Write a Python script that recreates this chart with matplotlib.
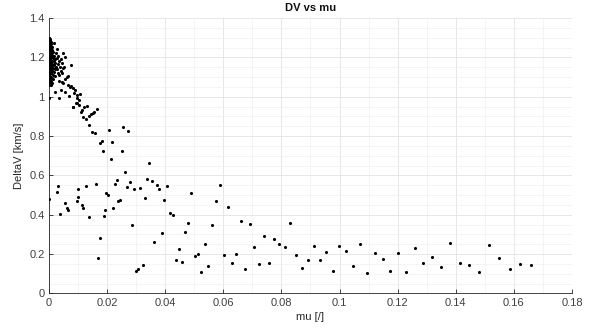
import matplotlib
matplotlib.use("Agg")
import matplotlib.pyplot as plt
from matplotlib.ticker import MultipleLocator
import numpy as np

# dense cluster near mu = 0
mu_cluster = [0.0000,0.0002,0.0004,0.0001,0.0006,0.0003,0.0000,0.0008,0.0005,0.0002,0.0010,0.0000,0.0007,0.0004,0.0012,0.0001,0.0009,0.0003,0.0015,0.0006,0.0000,0.0011,0.0004,0.0018,0.0008,0.0002,0.0013,0.0005,0.0020,0.0000,0.0010,0.0016,0.0003,0.0007,0.0022,0.0012,0.0001,0.0018,0.0005,0.0009,0.0025,0.0014,0.0000,0.0020,0.0006,0.0011,0.0003,0.0017,0.0008,0.0001,0.0013,0.0005,0.0021,0.0000,0.0010,0.0004,0.0015,0.0002,0.0007,0.0000,0.0012,0.0003,0.0000,0.0006,
              0.0028,0.0032,0.0030,0.0035,0.0026,0.0040,0.0031,0.0027,0.0036,0.0045,0.0052,
              0.0001,0.0003,0.0000,0.0005,0.0002,0.0008,0.0001,0.0004,0.0006,0.0000,0.0003,0.0009,0.0002,0.0005,0.0001,0.0007,0.0000,0.0004,0.0011,0.0002,0.0006,0.0000,0.0003,0.0008,0.0001,0.0005,0.0000,0.0002]
dv_cluster = [1.300,1.295,1.290,1.285,1.280,1.275,1.270,1.268,1.262,1.258,1.255,1.250,1.247,1.243,1.240,1.236,1.232,1.228,1.226,1.222,1.218,1.215,1.211,1.208,1.205,1.200,1.197,1.193,1.190,1.187,1.184,1.180,1.177,1.173,1.170,1.166,1.163,1.160,1.156,1.152,1.150,1.146,1.142,1.139,1.135,1.131,1.127,1.124,1.120,1.116,1.112,1.108,1.105,1.100,1.097,1.093,1.089,1.085,1.080,1.075,1.072,1.066,1.060,1.058,
              1.195,1.210,1.165,1.180,1.140,1.190,1.120,1.245,1.110,1.120,1.150,
              1.298,1.288,1.278,1.272,1.265,1.252,1.245,1.238,1.230,1.224,1.213,1.202,1.195,1.183,1.175,1.168,1.158,1.148,1.140,1.133,1.122,1.114,1.103,1.094,1.083,1.070,1.064,1.090]

# upper branch
mu_upper = [0.0000,0.0034,0.0018,0.0024,0.0049,0.0055,0.0075,0.0044,0.0038,0.0049,0.0041,0.0061,0.0066,0.0055,0.0044,0.0049,0.0035,0.0021,0.0041,0.0055,0.0066,0.0072,0.0077,0.0069,0.0084,0.0090,0.0086,0.0095,0.0097,0.0103,0.0082,0.0093,0.0102,0.0107,0.0109,0.0113,0.0120,0.0130,0.0118,0.0127,0.0139,0.0145,0.0150,0.0155,0.0164,0.0138,0.0147,0.0157,0.0208,0.0256,0.0273,0.0181,0.0176,0.0218,0.0185,0.0250,0.0212,0.0345,0.0262,0.0084,0.0097]
dv_upper = [0.992,0.992,1.275,1.224,1.224,1.201,1.162,1.174,1.153,1.145,1.133,1.102,1.106,1.089,1.077,1.072,1.080,1.026,1.035,1.026,1.060,1.051,1.055,1.006,1.043,1.035,1.018,1.009,0.992,0.984,0.947,0.967,0.957,1.014,0.924,0.933,0.950,0.955,0.896,0.886,0.904,0.911,0.916,0.924,0.936,0.857,0.819,0.816,0.833,0.846,0.824,0.775,0.763,0.768,0.726,0.726,0.683,0.665,0.616,0.950,0.967]

# lower branch
mu_lower = [0.0000,0.0027,0.0030,0.0038,0.0055,0.0061,0.0067,0.0095,0.0099,0.0101,0.0114,0.0118,0.0127,0.0139,0.0161,0.0168,0.0176,0.0189,0.0194,0.0196,0.0202,0.0221,0.0228,0.0233,0.0239,0.0244,0.0268,0.0280,0.0287,0.0294,0.0301,0.0307,0.0314,0.0322,0.0329,0.0337,0.0355,0.0360,0.0371,0.0379,0.0388,0.0397,0.0407,0.0416,0.0426,0.0436,0.0447,0.0457,0.0467,0.0477,0.0489,0.0502,0.0513,0.0523,0.0536,0.0548,0.0561,0.0575,0.0588,0.0602,0.0615,0.0630,0.0645,0.0660,0.0675,0.0691,0.0707,0.0724,0.0740,0.0757,0.0775,0.0793,0.0811,0.0831,0.0849,0.0871,0.0892,0.0912,0.0933,0.0955,0.0977,0.0999,0.1022,0.1046,0.1071,0.1096,0.1122,0.1149,0.1175,0.1202,0.1230,0.1259,0.1288,0.1318,0.1349,0.1381,0.1414,0.1446,0.1479,0.1514,0.1549,0.1585,0.1622,0.1660]
dv_lower = [0.478,0.517,0.546,0.404,0.458,0.433,0.422,0.468,0.492,0.529,0.448,0.432,0.545,0.387,0.555,0.178,0.280,0.395,0.422,0.509,0.502,0.432,0.558,0.578,0.471,0.475,0.541,0.565,0.346,0.531,0.112,0.125,0.537,0.142,0.487,0.583,0.570,0.260,0.550,0.532,0.308,0.473,0.548,0.409,0.398,0.168,0.227,0.161,0.310,0.359,0.509,0.190,0.200,0.108,0.251,0.137,0.346,0.470,0.551,0.196,0.441,0.154,0.202,0.366,0.122,0.354,0.237,0.148,0.292,0.153,0.275,0.251,0.237,0.359,0.195,0.127,0.171,0.239,0.169,0.208,0.112,0.242,0.214,0.139,0.249,0.105,0.204,0.175,0.112,0.205,0.107,0.232,0.154,0.186,0.132,0.258,0.153,0.144,0.107,0.244,0.180,0.124,0.148,0.146]

x_ticks = [0, 0.02, 0.04, 0.06, 0.08, 0.1, 0.12, 0.14, 0.16, 0.18]
x_ticklabels = ["0", "0.02", "0.04", "0.06", "0.08", "0.1", "0.12", "0.14", "0.16", "0.18"]
y_ticks = [0, 0.2, 0.4, 0.6, 0.8, 1.0, 1.2, 1.4]
y_ticklabels = ["0", "0.2", "0.4", "0.6", "0.8", "1", "1.2", "1.4"]

plt.rcParams['font.family'] = ['Liberation Sans', 'DejaVu Sans']

fig = plt.figure(figsize=(5.9, 3.3), dpi=100)
ax = fig.add_axes([0.083, 0.111, 0.8865, 0.834])

mu = np.array(mu_cluster + mu_upper + mu_lower)
dv = np.array(dv_cluster + dv_upper + dv_lower)
ax.scatter(mu, dv, s=5, c='black', linewidths=0, zorder=3)

ax.set_xlim(0, 0.18)
ax.set_ylim(0, 1.4)
ax.set_xticks(x_ticks)
ax.set_xticklabels(x_ticklabels)
ax.set_yticks(y_ticks)
ax.set_yticklabels(y_ticklabels)
ax.xaxis.set_minor_locator(MultipleLocator(0.01))
ax.yaxis.set_minor_locator(MultipleLocator(0.05))

ax.grid(True, which='major', color='#e3e3e3', linewidth=0.6)
ax.grid(True, which='minor', color='#f0f0f0', linewidth=0.5)
ax.set_axisbelow(True)

for s in ['top', 'right']:
    ax.spines[s].set_visible(False)
for s in ['left', 'bottom']:
    ax.spines[s].set_color('#262626')
    ax.spines[s].set_linewidth(0.6)

ax.tick_params(which='major', direction='in', length=3, width=0.6, colors='#262626',
               labelsize=8, labelcolor='#404040', pad=3)
ax.tick_params(which='minor', length=0)

ax.set_title("DV vs mu", fontsize=8, fontweight='bold', color='#111111', pad=5)
ax.set_xlabel("mu [/]", fontsize=8, color='#262626', labelpad=3)
ax.set_ylabel("DeltaV [km/s]", fontsize=8, color='#262626', labelpad=4)

fig.savefig("out.png", dpi=100)
